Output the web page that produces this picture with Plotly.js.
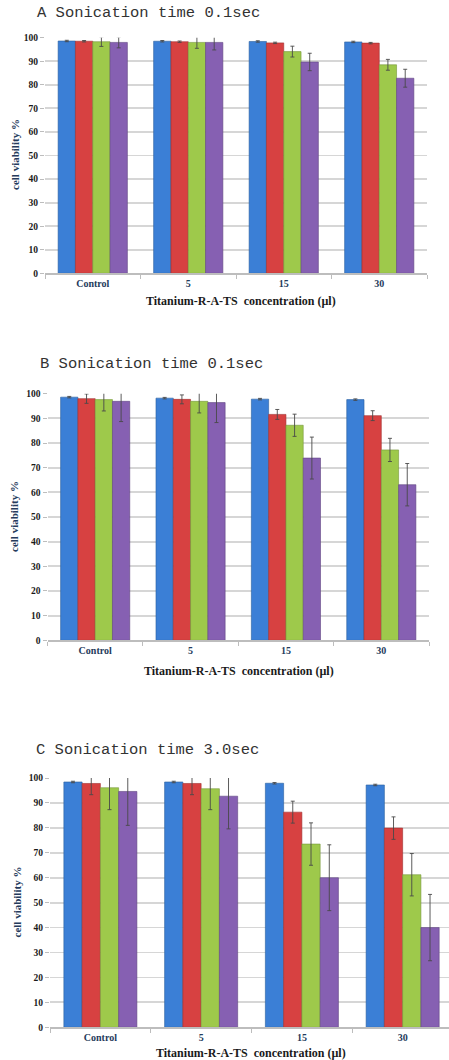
<!DOCTYPE html>
<html>
<head>
<meta charset="utf-8">
<script src="https://cdn.plot.ly/plotly-3.0.1.min.js"></script>
<style>html,body{margin:0;padding:0;background:#fff;}#chart{width:449px;height:1060px;}</style>
</head>
<body>
<div id="chart"></div>
<script>
// ---------- data ----------
const categories = ["Control", "5", "15", "30"];
const seriesNames = ["Series 1", "Series 2", "Series 3", "Series 4"];
const panelTitles = ["A Sonication time 0.1sec", "B Sonication time 0.1sec", "C Sonication time 3.0sec"];
const xTitle = "Titanium-R-A-TS  concentration (\u00b5l)";
const yTitle = "cell viability %";
const yTicks = [0, 10, 20, 30, 40, 50, 60, 70, 80, 90, 100];

// Panel A
const aBlue   = [98.6, 98.5, 98.4, 98.2];
const aRed    = [98.5, 98.3, 97.8, 97.7];
const aGreen  = [98.3, 98.0, 94.1, 88.5];
const aPurple = [98.0, 98.0, 89.7, 82.8];
const aBlueErr   = [0.3, 0.3, 0.3, 0.3];
const aRedErr    = [0.3, 0.3, 0.3, 0.3];
const aGreenErr  = [2.0, 2.5, 2.3, 2.3];
const aPurpleErr = [2.3, 3.2, 3.7, 3.8];

// Panel B
const bBlue   = [98.6, 98.2, 97.8, 97.6];
const bRed    = [98.0, 97.7, 91.6, 91.1];
const bGreen  = [97.6, 96.9, 87.2, 77.2];
const bPurple = [96.9, 96.4, 73.9, 63.1];
const bBlueErr   = [0.3, 0.3, 0.3, 0.3];
const bRedErr    = [1.9, 1.8, 2.0, 2.0];
const bGreenErr  = [4.6, 4.7, 4.5, 4.7];
const bPurpleErr = [8.2, 8.1, 8.5, 8.6];

// Panel C
const cBlue   = [98.4, 98.4, 97.9, 97.2];
const cRed    = [97.8, 97.8, 86.3, 79.9];
const cGreen  = [96.1, 95.7, 73.5, 61.2];
const cPurple = [94.6, 92.7, 60.0, 40.0];
const cBlueErr   = [0.3, 0.3, 0.3, 0.3];
const cRedErr    = [4.5, 4.5, 4.4, 4.5];
const cGreenErr  = [8.8, 8.4, 8.5, 8.5];
const cPurpleErr = [13.6, 13.1, 13.2, 13.3];

// ---------- styling ----------
const colors = ["#3b7fd6", "#d74141", "#9ec94b", "#8660b2"];
const edges  = ["#2a5f9e", "#a02f2f", "#76963a", "#5f4482"];
const W = 449, H = 1060;

const panels = [
  {vals: [aBlue, aRed, aGreen, aPurple], errs: [aBlueErr, aRedErr, aGreenErr, aPurpleErr],
   x0: 45, x1: 427, yTop: 37.7, yBot: 273.3, xr: [-0.5, 3.5],
   title: {x: 35, y: 13.5}, ytitle: {x: 15, y: 155}, xtitle: {x: 240.5, y: 300.7}},
  {vals: [bBlue, bRed, bGreen, bPurple], errs: [bBlueErr, bRedErr, bGreenErr, bPurpleErr],
   x0: 47.5, x1: 429, yTop: 393.7, yBot: 640.3, xr: [-0.5, 3.5],
   title: {x: 38, y: 363.5}, ytitle: {x: 14, y: 517}, xtitle: {x: 238.5, y: 670.7}},
  {vals: [cBlue, cRed, cGreen, cPurple], errs: [cBlueErr, cRedErr, cGreenErr, cPurpleErr],
   x0: 50, x1: 449, yTop: 778, yBot: 1027.3, xr: [-0.5, 3.46],
   title: {x: 34, y: 749.5}, ytitle: {x: 16.5, y: 902}, xtitle: {x: 250.5, y: 1053}}
];

const data = [];
const layout = {
  width: W, height: H,
  margin: {l: 0, r: 0, t: 0, b: 0},
  paper_bgcolor: "#ffffff", plot_bgcolor: "#ffffff",
  showlegend: false,
  barmode: "group", bargap: 0.275, bargroupgap: 0,
  annotations: []
};

const px = v => v / W;
const py = v => 1 - v / H;

panels.forEach((p, i) => {
  const n = i === 0 ? "" : String(i + 1);
  for (let s = 0; s < 4; s++) {
    data.push({
      type: "bar", name: seriesNames[s], x: categories, y: p.vals[s],
      xaxis: "x" + n, yaxis: "y" + n,
      marker: {color: colors[s], line: {color: edges[s], width: 0.6}},
      error_y: {type: "data", array: p.errs[s], visible: true, color: "#4a4a4a", thickness: 0.9, width: 2},
      hoverinfo: "x+y"
    });
  }
  layout["xaxis" + n] = {
    domain: [px(p.x0), px(p.x1)], anchor: "y" + n, range: p.xr,
    type: "category", showgrid: false, zeroline: false,
    showline: true, linecolor: "#bdbdbd", linewidth: 1.2,
    ticks: "outside", tickson: "boundaries", ticklen: 4, tickcolor: "#bdbdbd",
    tickfont: {family: "Liberation Serif", size: 10, color: "#253b5c", weight: "bold"},
    fixedrange: true
  };
  layout["yaxis" + n] = {
    domain: [py(p.yBot), py(p.yTop)], anchor: "x" + n, range: [0, 100],
    tickvals: yTicks, ticktext: yTicks.map(String),
    showgrid: true, gridcolor: "#d6d6d6", gridwidth: 1.8, zeroline: false,
    showline: false, ticks: "outside", ticklen: 4, tickcolor: "#bdbdbd",
    tickfont: {family: "Liberation Serif", size: 9.5, color: "#1a1a1a", weight: "bold"},
    fixedrange: true
  };
  layout.annotations.push({
    text: panelTitles[i], xref: "paper", yref: "paper", x: px(p.title.x), y: py(p.title.y),
    xanchor: "left", yanchor: "middle", showarrow: false,
    font: {family: "Liberation Mono", size: 15.5, color: "#333333"}
  });
  layout.annotations.push({
    text: yTitle, xref: "paper", yref: "paper", x: px(p.ytitle.x), y: py(p.ytitle.y),
    xanchor: "center", yanchor: "middle", textangle: -90, showarrow: false,
    font: {family: "Liberation Serif", size: 11, color: "#253b5c", weight: "bold"}
  });
  layout.annotations.push({
    text: xTitle, xref: "paper", yref: "paper", x: px(p.xtitle.x), y: py(p.xtitle.y),
    xanchor: "center", yanchor: "middle", showarrow: false,
    font: {family: "Liberation Serif", size: 12, color: "#1a1a1a", weight: "bold"}
  });
});

Plotly.newPlot("chart", data, layout, {displayModeBar: false, staticPlot: true});
</script>
</body>
</html>
